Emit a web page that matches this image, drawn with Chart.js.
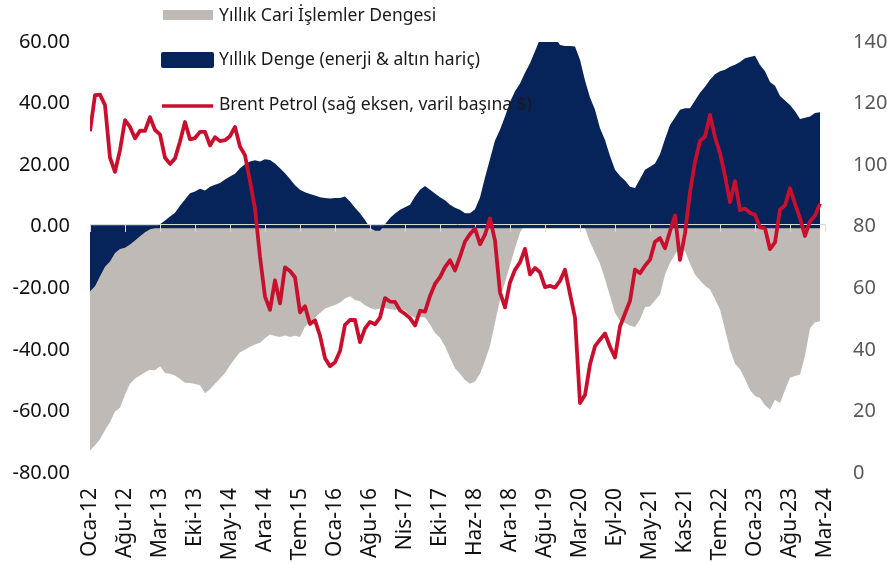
<!DOCTYPE html>
<html>
<head>
<meta charset="utf-8">
<script src="https://cdn.jsdelivr.net/npm/chart.js@4.4.1/dist/chart.umd.min.js"></script>
<style>
  html, body { margin: 0; padding: 0; background: #ffffff; }
  #wrap { width: 887px; height: 563px; position: relative; }
</style>
</head>
<body>
<div id="wrap"><canvas id="c" width="887" height="563"></canvas></div>
<script>
// X-axis tick labels (every 7 months, Oca-12 .. Mar-24)
const tickLabels = ['Oca-12','Ağu-12','Mar-13','Eki-13','May-14','Ara-14','Tem-15','Oca-16','Ağu-16','Nis-17','Eki-17','Haz-18','Ara-18','Ağu-19','Mar-20','Eyl-20','May-21','Kas-21','Tem-22','Oca-23','Ağu-23','Mar-24'];

// Yıllık Cari İşlemler Dengesi (monthly, Jan 2012 - Mar 2024)
const cariDenge = [
  -72.8, -71, -69, -66, -63.5, -60, -58.8, -54.5, -51, -49.3,
  -48.3, -47.3, -46.5, -46.6, -45.3, -47.5, -47.8, -48.3, -49.5, -50.7,
  -50.8, -51.1, -51.5, -54.1, -52.8, -51, -49.3, -47.5, -45, -42.8,
  -40.8, -40, -39, -38.3, -37.7, -36.2, -35, -35.5, -35.8, -35.3,
  -35.8, -35.4, -35.8, -32.5, -30.8, -29.5, -28, -26.6, -26, -25.4,
  -24.6, -23.3, -22.6, -23.8, -24.2, -25.5, -26.4, -26.9, -26.6, -26.4,
  -26.8, -27, -26.7, -27.2, -28.8, -29.6, -29.3, -29.5, -31.8, -34.5,
  -36.1, -38.8, -42.5, -46, -47.8, -49.8, -51, -50.3, -47.8, -43.5,
  -38.7, -31.2, -23.7, -18, -12.5, -7, -2, 1, 3, 5,
  6, 7, 8, 8, 8, 9, 8, 6, 3, -0.5,
  -5, -8.5, -12, -17, -22.5, -28, -30.5, -31.2, -32.2, -32.6,
  -30.1, -26.2, -25.8, -24, -22, -15.5, -11.8, -9, -6.5, -8,
  -12, -15.5, -17.5, -19.2, -20.4, -23.5, -26.9, -33.4, -40, -44.5,
  -46.3, -49.5, -53, -55, -55.6, -58, -59.4, -56.2, -57.3, -53,
  -49.1, -48.5, -48, -42, -33, -31, -30.7
];

// Yıllık Denge (enerji & altın hariç)
const dengeHaric = [
  -21, -19.3, -16.1, -13, -11.3, -8.5, -7.2, -6.8, -5.8, -4.5,
  -3.1, -1.8, -0.8, -0.4, 0.8, 2, 3.3, 4.5, 6.8, 8.8,
  10.9, 11.4, 12.3, 11.8, 13, 13.6, 14.2, 15.3, 16.3, 17.2,
  19, 20.3, 21.2, 21.6, 21.2, 21.9, 21.7, 20.5, 19, 17.4,
  15.5, 13.5, 12, 11.2, 10.6, 10.1, 9.6, 9.3, 9.2, 9.3,
  9.3, 9.8, 8.2, 6.2, 4.4, 2.2, -0.3, -1.3, -1.3, 0.8,
  2.8, 4.3, 5.5, 6.3, 7.1, 9.8, 12, 13.2, 12, 10.8,
  9.6, 8.6, 7.1, 6.2, 5.5, 4.4, 4.4, 5.7, 9.5, 16,
  22, 28, 31.5, 35.8, 40.5, 44, 46.5, 50, 53.1, 57,
  61, 62, 62, 61.5, 59, 58.7, 58.7, 58.5, 54.2, 47.5,
  42, 38, 32, 28.2, 23, 18.5, 16.5, 15, 13, 12.6,
  15.5, 18.5, 19.5, 20.5, 23.5, 28.5, 33, 35.5, 38, 38.5,
  38.5, 41, 43.5, 45.5, 47.7, 49.5, 50.5, 51, 52, 52.6,
  53.5, 54.7, 55.1, 55.5, 52.5, 50.5, 47, 45.8, 42.5, 41,
  39.5, 37.5, 35, 35.4, 35.8, 36.9, 37.2
];

// Brent Petrol (sağ eksen, varil başına $)
const brent = [
  111, 122.7, 122.9, 119.5, 102.4, 97.8, 104.9, 114.6, 112.4, 108.7, 111.2, 111.1,
  115.6, 111.4, 110, 102.4, 100.4, 102.2, 107.7, 114, 108.4, 108.8, 110.8, 110.8,
  106.4, 109.1, 107.8, 108.1, 109.4, 112.4, 106, 103.2, 94.7, 85.9, 70.2, 57.3,
  53, 62.6, 55.1, 66.8, 65.6, 63.6, 52.2, 54.2, 48.4, 49.6, 44.6, 37.3,
  34.7, 36, 39.6, 48.1, 49.7, 49.7, 42.5, 47, 49.1, 48.3, 50.5, 56.8,
  55.7, 55.6, 52.8, 51.7, 50.3, 47.9, 52.7, 52.4, 57.5, 61.4, 63.6, 66.9,
  69.1, 65.8, 70.3, 75.2, 77.6, 79.4, 74.3, 77.4, 82.7, 75.5, 58.7, 53.8,
  61.9, 66, 68.4, 72.8, 64.5, 66.6, 65.2, 60.4, 60.8, 60.2, 62.4, 66,
  58.2, 50.5, 22.7, 25.3, 35.3, 41.2, 43.3, 45.3, 41, 37.5, 47.6, 51.8,
  55.9, 66.1, 64.9, 67.3, 69.3, 75.1, 76.3, 73, 78.5, 83.7, 69.2, 77.8,
  91.2, 101, 107.9, 109.3, 116.3, 109, 104, 96.5, 88, 94.8, 85.4, 85.9,
  84.5, 83.9, 79.8, 79.5, 72.7, 74.9, 85.6, 86.9, 92.5, 87.4, 82.8, 77,
  81.7, 83.6, 87.5
];

const GREY = '#BFBAB5';
const NAVY = '#06235A';
const RED = '#C8102E';
const FONT = '"Noto Sans", "Open Sans", sans-serif';

const toPoints = arr => arr.map((v, i) => ({ x: i, y: v }));

const zeroAxisPlugin = {
  id: 'zeroAxis',
  afterDatasetDraw(chart, args) {
    if (args.index !== 1) return;
    const { ctx, scales: { x, y } } = chart;
    const y0 = y.getPixelForValue(0);
    const xs = x.getPixelForValue(0);
    const xe = x.getPixelForValue(dengeHaric.length - 1);
    ctx.save();
    ctx.fillStyle = NAVY;
    ctx.fillRect(xs, y0 - 1.5, xe - xs, 3);
    ctx.strokeStyle = '#D9D9D9';
    ctx.lineWidth = 1;
    ctx.beginPath();
    ctx.moveTo(x.left, Math.round(y0) - 2.5);
    ctx.lineTo(x.right, Math.round(y0) - 2.5);
    x.ticks.forEach(t => {
      const px = Math.round(x.getPixelForValue(t.value)) + 0.5;
      ctx.moveTo(px, Math.round(y0) - 2.5);
      ctx.lineTo(px, Math.round(y0) + 5);
    });
    ctx.stroke();
    ctx.restore();
  }
};

const legendPlugin = {
  id: 'customLegend',
  afterDraw(chart) {
    const ctx = chart.ctx;
    const ds = chart.data.datasets;
    ctx.save();
    ctx.font = '17.5px ' + FONT;
    ctx.textBaseline = 'middle';
    ctx.textAlign = 'left';
    // item 1: grey box
    ctx.fillStyle = GREY;
    ctx.fillRect(163, 10, 50, 10);
    ctx.fillStyle = '#1a1a1a';
    ctx.fillText(ds[0].label, 219, 16);
    // item 2: navy box
    ctx.fillStyle = NAVY;
    ctx.beginPath();
    if (ctx.roundRect) { ctx.roundRect(161, 52, 53, 16, 2); } else { ctx.rect(161, 52, 53, 16); }
    ctx.fill();
    ctx.fillStyle = '#1a1a1a';
    ctx.fillText(ds[1].label, 219, 60);
    // item 3: red line
    ctx.strokeStyle = RED;
    ctx.lineWidth = 3.5;
    ctx.beginPath();
    ctx.moveTo(162, 106);
    ctx.lineTo(213, 106);
    ctx.stroke();
    ctx.fillStyle = '#1a1a1a';
    ctx.fillText(ds[2].label, 219, 105);
    ctx.restore();
  }
};

new Chart(document.getElementById('c'), {
  type: 'line',
  data: {
    datasets: [
      {
        label: 'Yıllık Cari İşlemler Dengesi',
        data: toPoints(cariDenge),
        yAxisID: 'y',
        borderWidth: 0,
        borderColor: GREY,
        backgroundColor: GREY,
        fill: 'origin',
        pointRadius: 0,
        tension: 0,
        order: 3
      },
      {
        label: 'Yıllık Denge (enerji & altın hariç)',
        data: toPoints(dengeHaric),
        yAxisID: 'y',
        borderWidth: 0,
        borderColor: NAVY,
        backgroundColor: NAVY,
        fill: 'origin',
        pointRadius: 0,
        tension: 0,
        order: 2
      },
      {
        label: 'Brent Petrol (sağ eksen, varil başına $)',
        data: toPoints(brent),
        yAxisID: 'y2',
        borderWidth: 3.8,
        borderColor: RED,
        backgroundColor: RED,
        fill: false,
        pointRadius: 0,
        tension: 0,
        borderJoinStyle: 'round',
        order: 1
      }
    ]
  },
  options: {
    responsive: false,
    animation: false,
    devicePixelRatio: 1,
    layout: { padding: { top: 42, left: 0, right: 0, bottom: 0 } },
    plugins: {
      legend: { display: false },
      tooltip: { enabled: false },
      title: { display: false }
    },
    scales: {
      x: {
        type: 'linear',
        min: 0,
        max: 147,
        position: 'bottom',
        grid: { display: false, drawTicks: false },
        border: { display: false },
        ticks: {
          stepSize: 7,
          autoSkip: false,
          minRotation: 90,
          maxRotation: 90,
          padding: 15,
          color: '#111111',
          font: { family: FONT, size: 21 },
          callback: (v) => tickLabels[Math.round(v / 7)] || ''
        },
        afterFit: (s) => { s.height = 90; }
      },
      y: {
        position: 'left',
        min: -80,
        max: 60,
        grid: { display: false, drawTicks: false },
        border: { display: false },
        ticks: {
          stepSize: 20,
          padding: 20,
          color: '#111111',
          font: { family: FONT, size: 20 },
          callback: (v) => Number(v).toFixed(2)
        },
        afterFit: (s) => { s.width = 90; }
      },
      y2: {
        position: 'right',
        min: 0,
        max: 140,
        grid: { display: false, drawTicks: false },
        border: { display: false },
        ticks: {
          stepSize: 20,
          padding: 28,
          color: '#595959',
          font: { family: FONT, size: 20 },
          callback: (v) => String(v)
        },
        afterFit: (s) => { s.width = 62; }
      }
    }
  },
  plugins: [zeroAxisPlugin, legendPlugin]
});
</script>
</body>
</html>
